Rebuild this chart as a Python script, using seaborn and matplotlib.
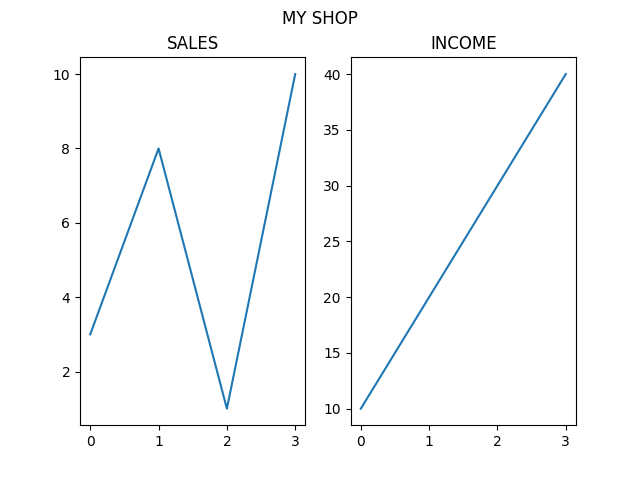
import matplotlib
matplotlib.use("Agg")
import matplotlib.pyplot as plt
import seaborn as sns

# data
x = [0, 1, 2, 3]
sales = [3, 8, 1, 10]
income = [10, 20, 30, 40]

fig, axes = plt.subplots(1, 2, figsize=(6.4, 4.78), dpi=100)

sns.lineplot(x=x, y=sales, ax=axes[0], color='#1f77b4')
axes[0].set_title('SALES')

sns.lineplot(x=x, y=income, ax=axes[1], color='#1f77b4')
axes[1].set_title('INCOME')

for ax in axes:
    ax.set_xticks(x)

fig.suptitle('MY SHOP')
plt.savefig('out.png')
